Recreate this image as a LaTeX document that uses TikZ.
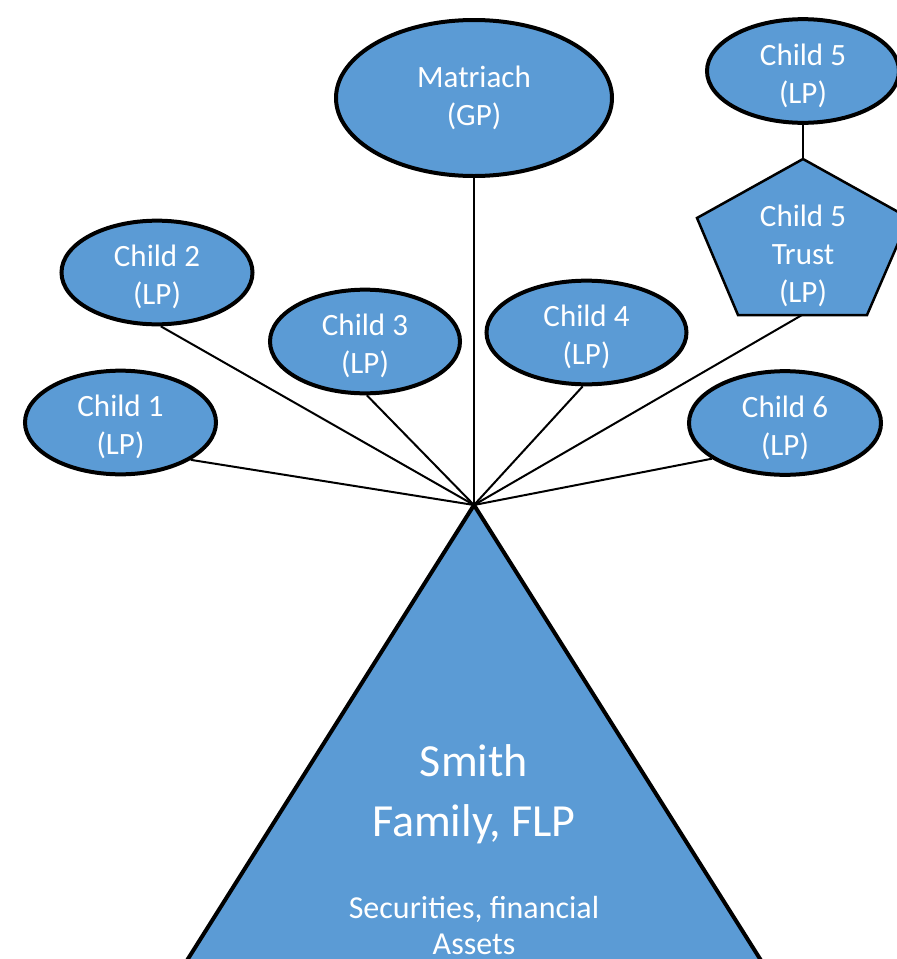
\documentclass[tikz,border=0pt]{standalone}
\usepackage{fontspec}
\setmainfont{Carlito}
\usetikzlibrary{shapes.geometric}
\definecolor{partblue}{HTML}{5B9BD5}
\newcommand{\toplift}{\rule{0pt}{31pt}}
\tikzset{
  member/.style={ellipse, draw=black, line width=4pt, fill=partblue,
    text=white, align=center, inner sep=0pt,
    font=\fontsize{31}{38}\selectfont},
  link/.style={draw=black, line width=2pt},
}
\begin{document}
\begin{tikzpicture}[x=1pt,y=1pt]
\useasboundingbox (0,0) rectangle (897,-959);

% partners
\node[member, minimum width=276, minimum height=156] (gp) at (474,-98) {Matriach\\(GP)};
\node[member, minimum width=191, minimum height=92] (c1) at (120.5,-422.5) {\toplift Child 1\\(LP)};
\node[member, minimum width=191, minimum height=92] (c2) at (157,-272.5) {\toplift Child 2\\(LP)};
\node[member, minimum width=190, minimum height=93] (c3) at (365,-341.5) {\toplift Child 3\\(LP)};
\node[member, minimum width=200, minimum height=94] (c4) at (586.5,-332.5) {\toplift Child 4\\(LP)};
\node[member, minimum width=192, minimum height=95] (c6) at (785,-423) {\toplift Child 6\\(LP)};
\node[member, minimum width=192, minimum height=94] (c5) at (803,-71) {\toplift Child 5\\(LP)};

% trust held for child 5
\coordinate (trusttop) at (803,-159);
\coordinate (trustbottom) at (802,-315);
\draw[line width=2.5pt, fill=partblue, line join=miter]
  (trusttop) -- (909,-218) -- (867,-315) -- (738,-315) -- (697,-218) -- cycle;
\node[text=white, align=center, font=\fontsize{31}{38}\selectfont] (trust) at (803,-256) {Child 5\\Trust\\(LP)};
\draw[link, line width=2.5pt] (c5.south) -- (trusttop);

% apex of the partnership
\coordinate (apex) at (474,-505);
\draw[link] (gp.south) -- (apex);
\draw[link] (c1.-28) -- (apex);
\draw[link] (c2.-86) -- (apex);
\draw[link] (c3.-88) -- (apex);
\draw[link] (c4.-94) -- (apex);
\draw[link] (c6.-154) -- (apex);
\draw[link] (trustbottom) -- (apex);

% the family limited partnership
\draw[line width=4pt, fill=partblue, line join=miter]
  (apex) -- (762,-962) -- (186,-962) -- cycle;
\node[text=white, align=center, font=\fontsize{46}{60}\selectfont] (flp) at (474,-794) {Smith\\Family, FLP};
\node[text=white, align=center, font=\fontsize{32}{36}\selectfont] (assets) at (474,-925) {Securities, financial\\Assets};
\end{tikzpicture}
\end{document}
